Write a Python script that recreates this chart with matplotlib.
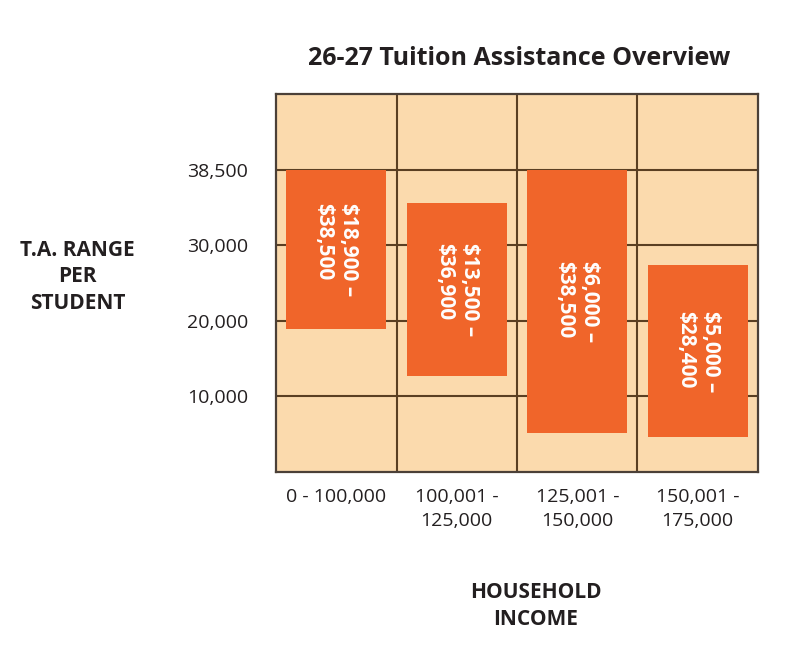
import numpy as np
import matplotlib
matplotlib.use("Agg")
import matplotlib.pyplot as plt
from matplotlib.ticker import FixedLocator

plt.rcParams["font.family"] = ["Open Sans", "DejaVu Sans"]
plt.rcParams["text.color"] = "#231f20"
plt.rcParams["xtick.color"] = "#231f20"
plt.rcParams["ytick.color"] = "#231f20"

# income brackets (x categories)
brackets = ["0 - 100,000", "100,001 -\n125,000", "125,001 -\n150,000", "150,001 -\n175,000"]
# range labels printed on the bars
range_labels = ["$18,900 \u2013\n$38,500", "$13,500 \u2013\n$36,900",
                "$6,000 \u2013\n$38,500", "$5,000 \u2013\n$28,400"]
# bar extents as drawn in the picture (dollars, on the chart's own axis)
bar_low = [18900, 12700, 5050, 4550]
bar_high = [38500, 34700, 38500, 27300]
# y-axis: labelled gridlines sit evenly spaced, whatever the value gap
tick_values = [10000, 20000, 30000, 38500]
axis_values = [0, 10000, 20000, 30000, 38500, 47000]

BG = "#fbdaad"
BAR = "#f0652a"
GRID = "#5a3f22"

levels = np.arange(len(axis_values), dtype=float)


def fwd(v):
    return np.interp(v, axis_values, levels)


def inv(l):
    return np.interp(l, levels, axis_values)


fig = plt.figure(figsize=(8.01, 6.64), dpi=100)
ax = fig.add_axes([0.3446, 0.2899, 0.6017, 0.5685])
ax.set_yscale("function", functions=(fwd, inv))
ax.set_facecolor(BG)

x = np.arange(len(brackets))
heights = [h - l for l, h in zip(bar_low, bar_high)]
ax.bar(x, heights, bottom=bar_low, width=0.83, color=BAR, zorder=3)

for xi, lo, hi, lab in zip(x, bar_low, bar_high, range_labels):
    mid = inv((fwd(lo) + fwd(hi)) / 2)
    ax.text(xi, mid, lab, rotation=270, ha="center", va="center",
            multialignment="left", color="white", fontsize=15,
            fontweight="bold", linespacing=1.25, zorder=4)

ax.set_xlim(-0.5, len(brackets) - 0.5)
ax.set_ylim(axis_values[0], axis_values[-1])
ax.xaxis.set_major_locator(FixedLocator(x))
ax.xaxis.set_minor_locator(FixedLocator(x[:-1] + 0.5))
ax.set_xticklabels(brackets, fontsize=14, linespacing=1.45)
ax.yaxis.set_major_locator(FixedLocator(tick_values))
ax.yaxis.set_minor_locator(FixedLocator([]))
ax.set_yticklabels([f"{v:,}" for v in tick_values], fontsize=14)
ax.tick_params(axis="both", which="both", length=0)
ax.tick_params(axis="y", pad=20)
ax.tick_params(axis="x", pad=12)

ax.grid(True, axis="y", which="major", color=GRID, lw=1.5, zorder=1)
ax.grid(True, axis="x", which="minor", color=GRID, lw=1.5, zorder=1)
ax.grid(False, axis="x", which="major")
ax.set_axisbelow(True)
for sp in ax.spines.values():
    sp.set_color("#4b4038")
    sp.set_linewidth(1.6)

fig.text(0.648, 0.912, "26-27 Tuition Assistance Overview", ha="center",
         va="center", fontsize=18, fontweight="bold")
fig.text(0.097, 0.583, "T.A. RANGE\nPER\nSTUDENT", ha="center", va="center",
         fontsize=15, fontweight="bold", linespacing=1.35)
fig.text(0.669, 0.087, "HOUSEHOLD\nINCOME", ha="center", va="center",
         fontsize=15, fontweight="bold", linespacing=1.35)

fig.savefig("out.png", dpi=100)
